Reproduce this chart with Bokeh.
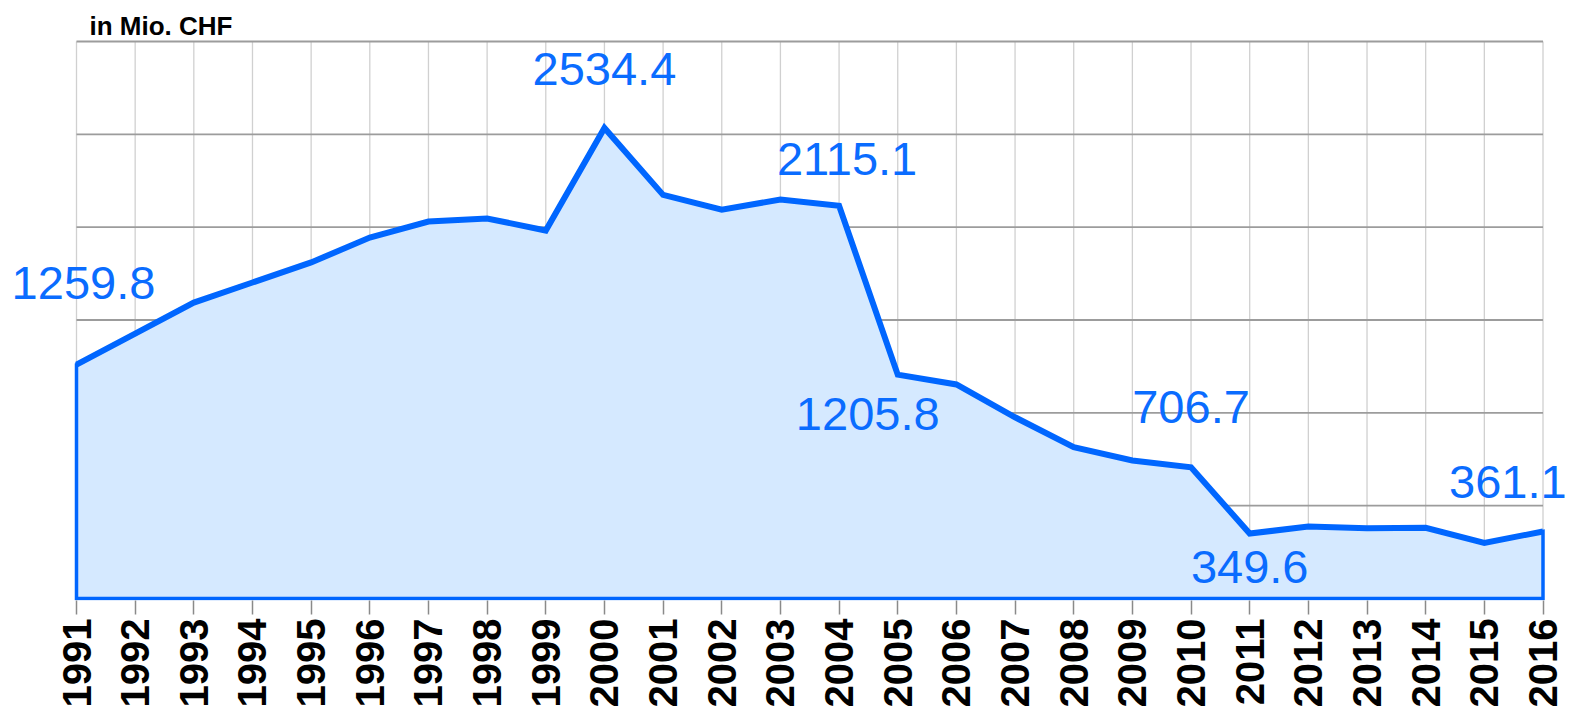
import math
from bokeh.plotting import figure
from bokeh.models import FixedTicker, Label, Range1d
from bokeh.embed import file_html
from bokeh.resources import INLINE

years = list(range(1991, 2017))
values = [1259.8, 1427, 1594, 1702, 1810, 1944, 2030, 2047, 1982, 2534.4,
          2174, 2094, 2149, 2115.1, 1205.8, 1153, 976, 815, 743, 706.7,
          349.6, 388, 379, 381, 299, 361.1]
label_years = [1991, 2000, 2004, 2005, 2010, 2011, 2016]
y_grid_ticks = [500, 1000, 1500, 2000, 2500, 3000]
unit_text = "in Mio. CHF"

LINE = "#0066ff"
FILL = "#d5e9ff"
TEXT = "#0a6cff"
FONT = "Liberation Sans"

W, H = 1571, 720
# layout (pixels): where first/last year and 0/top gridline sit
X0_PX, X1_PX = 76.0, 1542.5
Y0_PX, YT_PX, FRAME_BOTTOM = 598.0, 41.0, 600.0
x_first, x_last = years[0], years[-1]
y_top = y_grid_ticks[-1]
ppx = (X1_PX - X0_PX) / (x_last - x_first)
ppy = (Y0_PX - YT_PX) / y_top
x_start = x_first - X0_PX / ppx
x_end = x_last + (W - X1_PX) / ppx
y_start = -(FRAME_BOTTOM - Y0_PX) / ppy
y_end = y_top + YT_PX / ppy

p = figure(width=W, height=H, output_backend="svg", toolbar_location=None,
           x_range=Range1d(x_start, x_end), y_range=Range1d(y_start, y_end),
           min_border_left=0, min_border_right=0, min_border_top=0,
           min_border_bottom=int(H - FRAME_BOTTOM))
p.outline_line_color = None
p.background_fill_color = "white"
p.border_fill_color = "white"
p.xgrid.visible = False
p.ygrid.visible = False
p.yaxis.visible = False

xa = p.xaxis[0]
xa.ticker = FixedTicker(ticks=years)
xa.major_label_orientation = math.pi / 2
xa.major_label_text_font = FONT
xa.major_label_text_font_style = "bold"
xa.major_label_text_font_size = "40px"
xa.major_label_text_color = "black"
xa.major_label_standoff = 4
xa.axis_line_color = None
xa.major_tick_line_color = "#8a8a8a"
xa.major_tick_line_width = 1.5
xa.major_tick_in = 0
xa.major_tick_out = 14
xa.minor_tick_line_color = None

# grid lines
p.segment(x0=years, y0=[0] * len(years), x1=years, y1=[y_top] * len(years),
          line_color="#d0d0d0", line_width=1.3)
p.segment(x0=[x_first] * len(y_grid_ticks), y0=y_grid_ticks,
          x1=[x_last] * len(y_grid_ticks), y1=y_grid_ticks,
          line_color="#9c9c9c", line_width=1.8)

# area
px = [x_first] + years + [x_last]
py = [0] + values + [0]
p.patch(px, py, fill_color=FILL, line_color=LINE, line_width=3.5, line_join="miter")
p.line(years, values, line_color=LINE, line_width=6, line_join="miter")

# label offsets (x_offset, y_offset, align) in pixels
offs = {1991: (7, 82, "center"), 2000: (0, 59, "center"), 2004: (8, 47, "center"),
        2005: (-30, -39, "center"), 2010: (0, 60, "center"), 2011: (0, -33, "center"),
        2016: (-94, 49, "left")}
vmap = dict(zip(years, values))
for yr in label_years:
    dx, dy, al = offs[yr]
    p.add_layout(Label(x=yr, y=vmap[yr], text=f"{vmap[yr]:.1f}", x_offset=dx, y_offset=dy,
                       text_align=al, text_baseline="alphabetic", text_color=TEXT,
                       text_font=FONT, text_font_size="47px"))

p.add_layout(Label(x=x_first, y=y_top, text=unit_text, x_offset=13, y_offset=16,
                   text_align="left", text_baseline="alphabetic", text_color="black",
                   text_font=FONT, text_font_style="bold", text_font_size="26px"))

open("out.html", "w").write(file_html(p, INLINE))
